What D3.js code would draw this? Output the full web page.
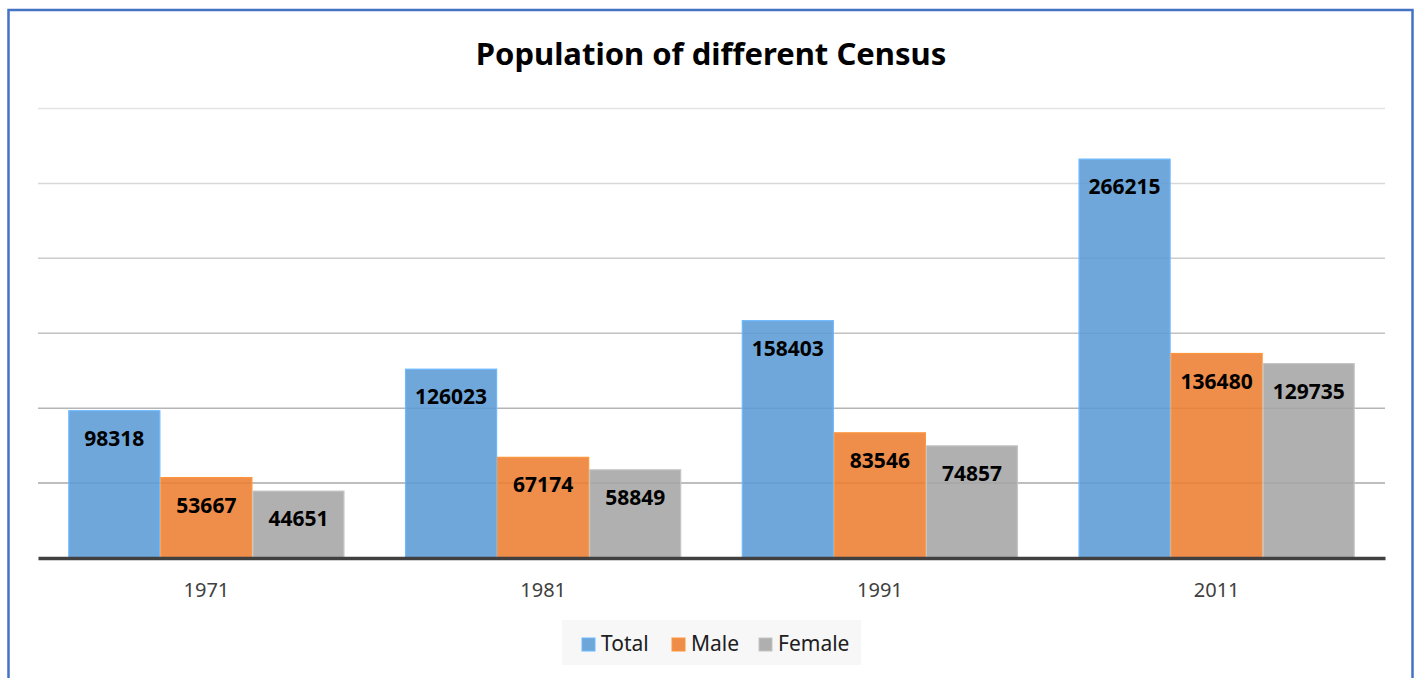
<!DOCTYPE html>
<html>
<head>
  <meta charset="utf-8">
  <script src="https://d3js.org/d3.v7.min.js"></script>
  <style>
    body { margin: 0; background: #ffffff; }
    text { font-family: "Noto Sans", "Open Sans", sans-serif; }
  </style>
</head>
<body>
<script>
// chart data
var years = ['1971', '1981', '1991', '2011'];
var seriesNames = ['Total', 'Male', 'Female'];
var total  = [98318, 126023, 158403, 266215];
var male   = [53667, 67174, 83546, 136480];
var female = [44651, 58849, 74857, 129735];
var yTicks = [0, 50000, 100000, 150000, 200000, 250000, 300000];

var colors = { Total: '#5b9bd5', Male: '#ed7d31', Female: '#a5a5a5' };
var values = { Total: total, Male: male, Female: female };

var W = 1421, H = 678;
var svg = d3.select('body').append('svg')
  .attr('width', W)
  .attr('height', H);

// outer frame
svg.append('rect')
  .attr('x', 8.5).attr('y', 10)
  .attr('width', 1404).attr('height', 720)
  .attr('fill', '#fff')
  .attr('stroke', '#4472c4')
  .attr('stroke-width', 2.5);

svg.append('text')
  .attr('x', 711).attr('y', 65)
  .attr('text-anchor', 'middle')
  .style('font-size', '31px')
  .style('font-weight', 'bold')
  .attr('fill', '#000')
  .text('Population of different Census');

var plotLeft = 38, plotRight = 1385, plotTop = 108.5, plotBottom = 558;

var y = d3.scaleLinear().domain([0, 300000]).range([plotBottom, plotTop]);
var x0 = d3.scaleBand().domain(years).range([plotLeft, plotRight])
  .paddingInner(0.18).paddingOuter(0.09);
var x1 = d3.scaleBand().domain(seriesNames).range([0, x0.bandwidth()]);

// gridlines, lighter towards the top
var gridColor = d3.scaleLinear().domain([50000, 300000]).range(['#a9a9a9', '#e4e4e4']);
svg.append('g').selectAll('line')
  .data(yTicks.filter(function(d) { return d > 0; }))
  .enter().append('line')
  .attr('x1', plotLeft).attr('x2', plotRight)
  .attr('y1', function(d) { return y(d); })
  .attr('y2', function(d) { return y(d); })
  .attr('stroke', function(d) { return gridColor(d); })
  .attr('stroke-width', 1.5);

// bars
var rows = [];
years.forEach(function(yr, i) {
  seriesNames.forEach(function(s) {
    rows.push({ year: yr, series: s, value: values[s][i] });
  });
});

svg.append('g').selectAll('rect')
  .data(rows)
  .enter().append('rect')
  .attr('x', function(d) { return x0(d.year) + x1(d.series) + 0.5; })
  .attr('y', function(d) { return y(d.value); })
  .attr('width', x1.bandwidth() - 1)
  .attr('height', function(d) { return plotBottom - y(d.value); })
  .attr('fill', function(d) { return colors[d.series]; })
  .attr('fill-opacity', 0.88)
  .attr('stroke', function(d) { return d3.color(colors[d.series]).brighter(0.5); })
  .attr('stroke-width', 1.2);

// value labels inside top of bars
svg.append('g').selectAll('text')
  .data(rows)
  .enter().append('text')
  .attr('x', function(d) { return x0(d.year) + x1(d.series) + x1.bandwidth() / 2; })
  .attr('y', function(d) { return y(d.value) + 35; })
  .attr('text-anchor', 'middle')
  .style('font-size', '21px')
  .style('font-weight', 'bold')
  .attr('fill', '#000')
  .text(function(d) { return d.value; });

// baseline axis
var xAxis = d3.axisBottom(x0).tickSize(0).tickPadding(25);
var ax = svg.append('g')
  .attr('transform', 'translate(0,' + plotBottom + ')')
  .call(xAxis);
ax.select('.domain')
  .attr('stroke', '#404040')
  .attr('stroke-width', 3.5);
ax.selectAll('text')
  .style('font-size', '20px')
  .style('font-family', '"Noto Sans", sans-serif')
  .attr('fill', '#404040');

// legend
var legend = svg.append('g');
legend.append('rect')
  .attr('x', 562).attr('y', 620)
  .attr('width', 299).attr('height', 45)
  .attr('fill', '#f7f7f7');
var legendX = [582, 672, 759];
seriesNames.forEach(function(s, i) {
  legend.append('rect')
    .attr('x', legendX[i]).attr('y', 638)
    .attr('width', 13).attr('height', 13)
    .attr('fill', colors[s])
    .attr('fill-opacity', 0.88)
    .attr('stroke', d3.color(colors[s]).brighter(0.5));
  legend.append('text')
    .attr('x', legendX[i] + 19).attr('y', 651)
    .style('font-size', '21px')
    .attr('fill', '#202020')
    .text(s);
});
</script>
</body>
</html>
